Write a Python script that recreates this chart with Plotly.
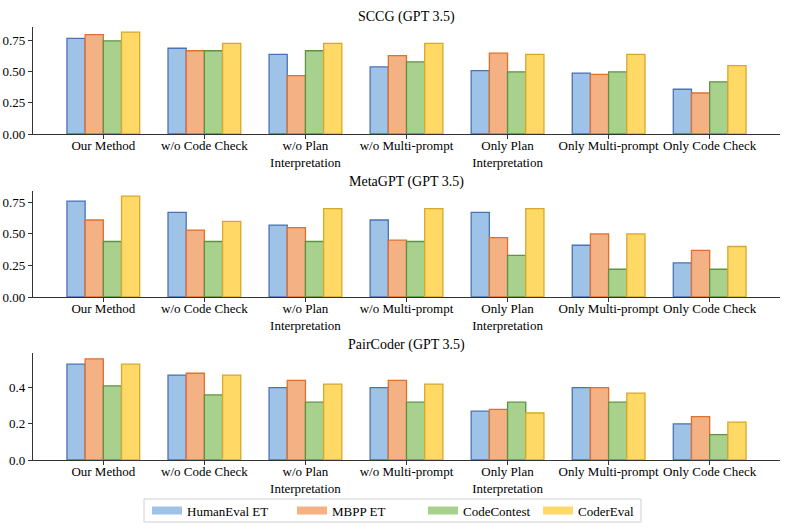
import plotly.graph_objects as go
from plotly.subplots import make_subplots

categories = ["Our Method", "w/o Code Check", "w/o Plan<br>Interpretation", "w/o Multi-prompt",
              "Only Plan<br>Interpretation", "Only Multi-prompt", "Only Code Check"]
series_names = ["HumanEval ET", "MBPP ET", "CodeContest", "CoderEval"]
panel_titles = ["SCCG (GPT 3.5)", "MetaGPT (GPT 3.5)", "PairCoder (GPT 3.5)"]

sccg_humaneval = [0.77, 0.69, 0.64, 0.54, 0.51, 0.49, 0.36]
sccg_mbpp = [0.80, 0.67, 0.47, 0.63, 0.65, 0.48, 0.33]
sccg_codecontest = [0.75, 0.67, 0.67, 0.58, 0.50, 0.50, 0.42]
sccg_codereval = [0.82, 0.73, 0.73, 0.73, 0.64, 0.64, 0.55]

metagpt_humaneval = [0.76, 0.67, 0.57, 0.61, 0.67, 0.41, 0.27]
metagpt_mbpp = [0.61, 0.53, 0.55, 0.45, 0.47, 0.50, 0.37]
metagpt_codecontest = [0.44, 0.44, 0.44, 0.44, 0.33, 0.22, 0.22]
metagpt_codereval = [0.80, 0.60, 0.70, 0.70, 0.70, 0.50, 0.40]

paircoder_humaneval = [0.53, 0.47, 0.40, 0.40, 0.27, 0.40, 0.20]
paircoder_mbpp = [0.56, 0.48, 0.44, 0.44, 0.28, 0.40, 0.24]
paircoder_codecontest = [0.41, 0.36, 0.32, 0.32, 0.32, 0.32, 0.14]
paircoder_codereval = [0.53, 0.47, 0.42, 0.42, 0.26, 0.37, 0.21]

panels = [
    [sccg_humaneval, sccg_mbpp, sccg_codecontest, sccg_codereval],
    [metagpt_humaneval, metagpt_mbpp, metagpt_codecontest, metagpt_codereval],
    [paircoder_humaneval, paircoder_mbpp, paircoder_codecontest, paircoder_codereval],
]

fills = ["#9fc3e7", "#f4b183", "#a9d18e", "#ffd966"]
edges = ["#4a72b8", "#e0702e", "#5e9440", "#d9a82a"]

W, H = 793, 529
ML, MR = 33, 13
PW = W - ML - MR


def px_x(p):
    return (p - ML) / PW


def px_y(p):
    return 1 - p / H


legend_ids = ["legend", "legend2", "legend3", "legend4"]
legend_text_x = [187, 332, 463, 578]

fig = make_subplots(rows=3, cols=1)

for r, panel in enumerate(panels):
    for s, vals in enumerate(panel):
        fig.add_trace(go.Bar(
            x=categories, y=vals, name=series_names[s],
            marker=dict(color=fills[s], line=dict(color=edges[s], width=1.3)),
            showlegend=False, legendgroup=series_names[s],
        ), row=r + 1, col=1)

# legend-only entries drawn as wide colour patches (like the reference legend)
for s, name in enumerate(series_names):
    fig.add_trace(go.Scatter(
        x=[None], y=[None], mode="lines", name=name,
        line=dict(color=fills[s], width=8),
        legendgroup=name, legend=legend_ids[s], showlegend=True, hoverinfo="skip",
    ), row=1, col=1)

# pixel boxes (top, bottom) of each plot area
boxes = [(27, 134), (191, 297), (353, 460)]
yranges = [[0, 0.861], [0, 0.84], [0, 0.592]]
ytickvals = [[0, 0.25, 0.5, 0.75], [0, 0.25, 0.5, 0.75], [0, 0.2, 0.4]]
yfmt = [".2f", ".2f", ".1f"]
title_y = [17, 182, 345]

font = "Liberation Serif"
for i in range(3):
    top, bot = boxes[i]
    xa = "xaxis" if i == 0 else f"xaxis{i+1}"
    ya = "yaxis" if i == 0 else f"yaxis{i+1}"
    fig.layout[ya].update(domain=[px_y(bot), px_y(top)], range=yranges[i],
                          tickvals=ytickvals[i], tickformat=yfmt[i],
                          showline=True, linecolor="#333", linewidth=1.2,
                          ticks="outside", ticklen=4, tickcolor="#333",
                          showgrid=False, zeroline=False, automargin=False,
                          tickfont=dict(family=font, size=13, color="black"))
    fig.layout[xa].update(range=[-0.696, 6.696], showline=True, linecolor="#333",
                          linewidth=1.2, ticks="outside", ticklen=4, tickcolor="#333",
                          showgrid=False, tickangle=0, automargin=False,
                          ticklabelstandoff=-5, type="category",
                          categoryorder="array", categoryarray=categories,
                          tickfont=dict(family=font, size=13, color="black"))
    fig.add_annotation(text=panel_titles[i], xref="paper", yref="paper",
                       x=0.5, y=px_y(title_y[i]), showarrow=False,
                       xanchor="center", yanchor="middle",
                       font=dict(family=font, size=14, color="black"))

# legend frame
fig.add_shape(type="rect", xref="paper", yref="paper",
              x0=px_x(144), x1=px_x(641), y0=px_y(522), y1=px_y(499),
              line=dict(color="#d0d0d0", width=1), fillcolor="white", layer="below")

legend_layout = {}
for s, lid in enumerate(legend_ids):
    legend_layout[lid] = dict(orientation="h", x=px_x(legend_text_x[s] - 40), xanchor="left",
                              y=px_y(510.5), yanchor="middle", borderwidth=0,
                              bgcolor="rgba(0,0,0,0)", itemwidth=30,
                              font=dict(family=font, size=13, color="black"))

fig.update_layout(
    width=W, height=H,
    margin=dict(l=ML, r=MR, t=0, b=0, autoexpand=False),
    barmode="group", bargap=0.28, bargroupgap=0,
    plot_bgcolor="white", paper_bgcolor="white",
    font=dict(family=font, color="black"),
    **legend_layout,
)

fig.write_html("out.html", config={"displayModeBar": False},
               post_script="document.body.style.margin='0';")
